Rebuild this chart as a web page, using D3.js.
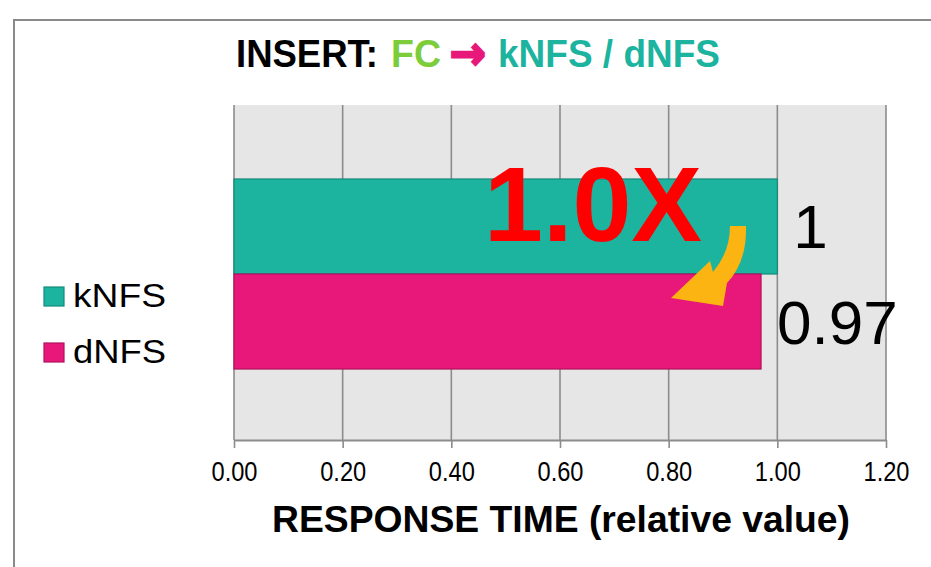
<!DOCTYPE html>
<html>
<head>
<meta charset="utf-8">
<script src="https://cdn.jsdelivr.net/npm/d3@7"></script>
<style>
  html, body { margin: 0; padding: 0; background: #fff; }
  svg { display: block; }
</style>
</head>
<body>
<svg id="chart" width="931" height="567"></svg>
<script>
// Data
const series = ["kNFS", "dNFS"];
const values = [1, 0.97];
const valueLabels = ["1", "0.97"];
const seriesColors = ["#1cb39f", "#e8177a"];
const seriesStrokes = ["#158a7a", "#b0135e"];
const xTicks = [0, 0.2, 0.4, 0.6, 0.8, 1.0, 1.2];
const xDomain = [0, 1.2];
const axisTitle = "RESPONSE TIME (relative value)";
const titleParts = [
  { text: "INSERT:", color: "#000000" },
  { text: "FC", color: "#7dcd3b" },
  { text: "\u2192", color: "#e8177a" },
  { text: "kNFS / dNFS", color: "#1cb39f" }
];
const callout = "1.0X";

const svg = d3.select("#chart");
const W = 931, H = 567;
const plot = { left: 234, right: 886, top: 105, bottom: 440 };

// Outer frame
svg.append("rect")
  .attr("x", 14).attr("y", 20)
  .attr("width", W + 10).attr("height", H + 10)
  .attr("fill", "#fff").attr("stroke", "#8a8a8a").attr("stroke-width", 2);

// Scales
const x = d3.scaleLinear().domain(xDomain).range([plot.left, plot.right]);
const y = d3.scaleBand().domain(series).range([plot.top + 3, plot.bottom])
  .paddingInner(0).paddingOuter(0.747);

// Plot background
svg.append("rect")
  .attr("x", plot.left).attr("y", plot.top)
  .attr("width", plot.right - plot.left).attr("height", plot.bottom - plot.top)
  .attr("fill", "#e6e6e6");

// Vertical gridlines
svg.append("g").selectAll("line").data(xTicks).join("line")
  .attr("x1", d => x(d)).attr("x2", d => x(d))
  .attr("y1", plot.top).attr("y2", plot.bottom)
  .attr("stroke", "#8c8c8c").attr("stroke-width", 1.6);

// Bars
svg.append("g").selectAll("rect").data(series).join("rect")
  .attr("x", x(0))
  .attr("y", d => y(d))
  .attr("width", (d, i) => x(values[i]) - x(0))
  .attr("height", y.bandwidth())
  .attr("fill", (d, i) => seriesColors[i])
  .attr("stroke", (d, i) => seriesStrokes[i])
  .attr("stroke-width", 1.2);

// Value labels
svg.append("g").selectAll("text").data(series).join("text")
  .attr("x", (d, i) => x(values[i]) + 16)
  .attr("y", d => y(d) + y.bandwidth() / 2 + 22)
  .attr("font-family", "'Liberation Sans', Arial, sans-serif")
  .attr("font-size", 62)
  .attr("fill", "#000")
  .text((d, i) => valueLabels[i]);

// X axis
const xAxis = d3.axisBottom(x).tickValues(xTicks)
  .tickFormat(d3.format(".2f")).tickSizeOuter(0).tickSizeInner(8).tickPadding(13);
const gx = svg.append("g").attr("transform", `translate(0,${plot.bottom})`).call(xAxis);
gx.select(".domain").attr("stroke", "#8c8c8c").attr("stroke-width", 2);
gx.selectAll(".tick line").attr("stroke", "#8c8c8c").attr("stroke-width", 1.6);
gx.selectAll(".tick text")
  .attr("font-family", "'Liberation Sans Narrow', 'Liberation Sans', Arial, sans-serif")
  .attr("font-size", 28)
  .attr("fill", "#000")
  .attr("textLength", 46)
  .attr("lengthAdjust", "spacingAndGlyphs");

// Axis title
svg.append("text")
  .attr("x", (plot.left + plot.right) / 2 + 1)
  .attr("y", 532)
  .attr("text-anchor", "middle")
  .attr("font-family", "'Liberation Sans', Arial, sans-serif")
  .attr("font-weight", "bold")
  .attr("font-size", 37)
  .attr("textLength", 578)
  .attr("lengthAdjust", "spacingAndGlyphs")
  .text(axisTitle);

// Chart title, one run per colour; the arrow uses a heavier face
const titleX = [236, 391, 450, 498];
const titleLen = [142, 50, 36, 222];
const titleFont = ["'Liberation Sans', Arial, sans-serif", "'Liberation Sans', Arial, sans-serif",
  "'DejaVu Sans', sans-serif", "'Liberation Sans', Arial, sans-serif"];
const titleSize = [39, 39, 46, 39];
svg.append("g").selectAll("text").data(titleParts).join("text")
  .attr("x", (d, i) => titleX[i])
  .attr("y", (d, i) => i === 2 ? 69 : 67)
  .attr("font-family", (d, i) => titleFont[i])
  .attr("font-weight", "bold")
  .attr("font-size", (d, i) => titleSize[i])
  .attr("fill", d => d.color)
  .attr("stroke", (d, i) => i === 2 ? d.color : "none")
  .attr("stroke-width", 2.5)
  .attr("textLength", (d, i) => titleLen[i])
  .attr("lengthAdjust", "spacingAndGlyphs")
  .text(d => d.text);

// Legend
const legend = svg.append("g").selectAll("g").data(series).join("g")
  .attr("transform", (d, i) => `translate(44,${287 + i * 56})`);
legend.append("rect")
  .attr("width", 20).attr("height", 19)
  .attr("fill", (d, i) => seriesColors[i])
  .attr("stroke", (d, i) => seriesStrokes[i])
  .attr("stroke-width", 1.2);
legend.append("text")
  .attr("x", 29).attr("y", 20)
  .attr("font-family", "'Liberation Sans', Arial, sans-serif")
  .attr("font-size", 34)
  .attr("fill", "#000")
  .attr("textLength", 93)
  .attr("lengthAdjust", "spacingAndGlyphs")
  .text(d => d);

// Callout over the bars
svg.append("text")
  .attr("x", 484).attr("y", 241)
  .attr("font-family", "'Liberation Sans', Arial, sans-serif")
  .attr("font-weight", "bold")
  .attr("font-size", 106)
  .attr("fill", "#ff0000")
  .text(callout);

// Curved orange arrow from the top bar down to the lower one
svg.append("path")
  .attr("d", "M730,226 L746,226 Q747,262 727,283 L723,306 L671,298 L710,261 L713,272 Q730,252 730,226 Z")
  .attr("fill", "#fbb412");
</script>
</body>
</html>
